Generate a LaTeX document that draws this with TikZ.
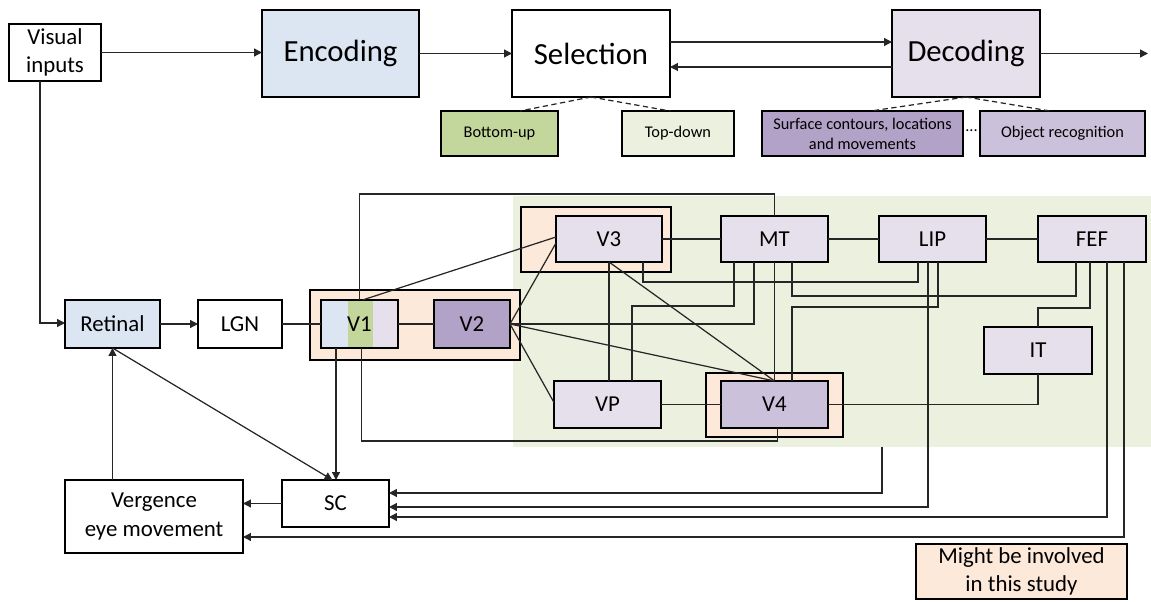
\documentclass[tikz,border=0pt]{standalone}
\usepackage{fontspec}
\setmainfont{Carlito}
\usetikzlibrary{arrows.meta,calc}
\definecolor{cblue}{HTML}{DCE6F2}
\definecolor{clav}{HTML}{E6E0EC}
\definecolor{cpurp}{HTML}{B3A2C7}
\definecolor{cpurpl}{HTML}{CCC1DA}
\definecolor{cgreen}{HTML}{C3D69B}
\definecolor{cgreenl}{HTML}{EBF1DE}
\definecolor{corange}{HTML}{FDE9D9}
\definecolor{cline}{HTML}{262626}
\newcommand\mkbox[7]{\node[#6, minimum width={(#4-#2)*0.02cm}, minimum height={(#5-#3)*0.02cm}] (#1) at ({(#2+#4)/2},{(#3+#5)/2}) {#7};}
\tikzset{
  box/.style={draw=black, line width=1.4pt, inner sep=0pt, outer sep=0pt, align=center, text=black, font=\fontsize{13}{16}\selectfont},
  bigbox/.style={box, font=\fontsize{17.5}{20}\selectfont},
  smallbox/.style={box, line width=1.2pt, font=\fontsize{9.3}{11.5}\selectfont},
  cont/.style={box, fill=corange},
  wire/.style={line width=0.7pt, draw=cline},
  arr/.style={wire, -{Triangle[length=4.5pt,width=4.5pt]}},
  dsh/.style={wire, dash pattern=on 3pt off 2pt}
}
\begin{document}
\begin{tikzpicture}[x=0.02cm, y=-0.02cm]
\useasboundingbox (0,0) rectangle (1151,601);
% background
\mkbox{bg}{513}{196}{1151}{447}{inner sep=0pt, outer sep=0pt, fill=cgreenl}{}
% top row
\mkbox{vis}{9}{24}{101}{81}{box, font=\fontsize{13}{16}\selectfont}{Visual\\inputs}
\mkbox{enc}{262}{10}{419}{97}{bigbox, fill=cblue}{Encoding}
\mkbox{sel}{512}{10}{670}{97}{bigbox}{Selection}
\mkbox{dec}{892}{10}{1040}{97}{bigbox, fill=clav}{Decoding}
\mkbox{bu}{441}{111}{558}{156}{smallbox, fill=cgreen}{Bottom-up}
\mkbox{td}{622}{111}{734}{156}{smallbox, fill=cgreenl}{Top-down}
\mkbox{surf}{762}{111}{963}{156}{smallbox, fill=cpurp}{Surface contours, locations\\and movements}
\mkbox{obj}{980}{111}{1145}{156}{smallbox, fill=cpurpl}{Object recognition}
\node[font=\fontsize{9.3}{11}\selectfont, inner sep=0pt] (dots) at (971.5,131) {...};
% containers
\mkbox{v3c}{521}{207}{671}{272}{cont}{}
\mkbox{v12c}{310}{290}{520}{360}{cont}{}
\mkbox{v4c}{706}{373}{843}{437}{cont}{}
% area boxes
\mkbox{V3}{556}{216}{662}{262}{box, fill=clav}{V3}
\mkbox{MT}{721}{216}{828}{262}{box, fill=clav}{MT}
\mkbox{LIP}{879}{216}{986}{262}{box, fill=clav}{LIP}
\mkbox{FEF}{1038}{216}{1146}{262}{box, fill=clav}{FEF}
\mkbox{V1}{321}{300}{398}{348}{box, path picture={
  \fill[cblue] (path picture bounding box.north west) rectangle ($(path picture bounding box.south west)+(27,0)$);
  \fill[cgreen] ($(path picture bounding box.north west)+(27,0)$) rectangle ($(path picture bounding box.south west)+(52,0)$);
  \fill[clav] ($(path picture bounding box.north west)+(52,0)$) rectangle (path picture bounding box.south east);}}{V1}
\mkbox{V2}{434}{300}{510}{348}{box, fill=cpurp}{V2}
\mkbox{Ret}{65}{300}{160}{348}{box, fill=cblue}{Retinal}
\mkbox{LGN}{198}{300}{282}{348}{box}{LGN}
\mkbox{IT}{984}{327}{1092}{374}{box, fill=clav}{IT}
\mkbox{VP}{554}{381}{661}{428}{box, fill=clav}{VP}
\mkbox{V4}{721}{381}{828}{428}{box, fill=cpurpl}{V4}
\mkbox{SC}{282}{480}{389}{527}{box}{SC}
\mkbox{Verg}{65}{480}{243}{553}{box, font=\fontsize{13}{16.5}\selectfont}{Vergence\\eye movement}
\mkbox{leg}{916}{544}{1127}{599}{box, fill=corange, font=\fontsize{13}{16}\selectfont}{Might be involved\\in this study}
% top connectors
\draw[arr] (vis.east) -- (vis.east -| enc.west);
\draw[arr] (enc.east) -- (enc.east -| sel.west);
\coordinate (s1) at ($(sel.east)+(0,-11.5)$);
\coordinate (s2) at ($(sel.east)+(0,13.5)$);
\draw[arr] (s1) -- (s1 -| dec.west);
\draw[arr] (s2 -| dec.west) -- (s2);
\coordinate (out) at (1148,53.5);
\draw[arr] (dec.east) -- (out);
\draw[dsh] (sel.south) -- ($(bu.north west)+(79,0)$);
\draw[dsh] (sel.south) -- ($(td.north west)+(48,0)$);
\draw[dsh] (dec.south) -- ($(surf.north west)+(109,0)$);
\draw[dsh] (dec.south) -- ($(obj.north west)+(70,0)$);
% left chain
\draw[arr] ($(vis.south west)+(31,0)$) |- ($(Ret.west)+(0,-1)$);
\draw[arr] (Ret.east) -- (LGN.west);
\draw[wire] (LGN.east) -- (V1.west);
\draw[wire] (V1.east) -- (V2.west);
\draw[wire] (V1.north) -- ++(0,-106) -| (MT.north);
\draw[wire] ($(V1.north)+(3,0)$) -- ($(V3.west)+(0,-2)$);
\draw[wire] (V2.east) -- ($(V3.west)+(0,4)$);
\draw[wire] (V2.east) -- ($(VP.west)+(0,-2)$);
\draw[wire] (V2.east) -| ($(MT.south west)+(33,0)$);
\draw[wire] (V2.east) -- (V4.north);
\draw[wire] (V3.south) -- (V3.south |- VP.north);
\draw[wire] (V3.south) -- (V4.north);
\draw[wire] ($(V3.south west)+(87,0)$) -- ++(0,20) -| ($(LIP.south west)+(39,0)$);
\draw[wire] (V3.east) -- (MT.west);
\draw[wire] (MT.east) -- (LIP.west);
\draw[wire] (LIP.east) -- (FEF.west);
\draw[wire] ($(MT.south west)+(13,0)$) -- ++(0,44) -| ($(VP.north west)+(78,0)$);
\draw[wire] (MT.south) -- (V4.north);
\draw[wire] ($(MT.south west)+(71,0)$) -- ++(0,34) -| ($(FEF.south west)+(38,0)$);
\draw[wire] ($(V4.north west)+(71,0)$) -- ++(0,-74) -| ($(LIP.south west)+(59,0)$);
\draw[wire] ($(FEF.south west)+(52,0)$) -- ++(0,46) -| (IT.north);
\draw[wire] (IT.south) |- (V4.east);
\draw[wire] (VP.east) -- (V4.west);
\draw[wire] ($(V4.south)+(3,0)$) -- ++(0,13) -| ($(V1.south)+(2,0)$);
% to SC / vergence
\coordinate (v1b) at ($(V1.south west)+(15,0)$);
\draw[arr] (v1b) -- (v1b |- SC.north);
\draw[arr] (Ret.south) -- ($(SC.north)+(-3,0)$);
\draw[arr] (SC.west) -- (SC.west -| Verg.east);
\draw[arr] (Ret.south |- Verg.north) -- (Ret.south);
\draw[arr] ($(bg.south west)+(369,0)$) |- ($(SC.east)+(0,-10.5)$);
\draw[arr] ($(LIP.south west)+(49,0)$) |- ($(SC.east)+(0,3.5)$);
\draw[arr] ($(FEF.south west)+(69,0)$) |- ($(SC.east)+(0,13.5)$);
\draw[arr] ($(FEF.south west)+(86,0)$) |- ($(Verg.east)+(0,20.5)$);
\end{tikzpicture}
\end{document}
